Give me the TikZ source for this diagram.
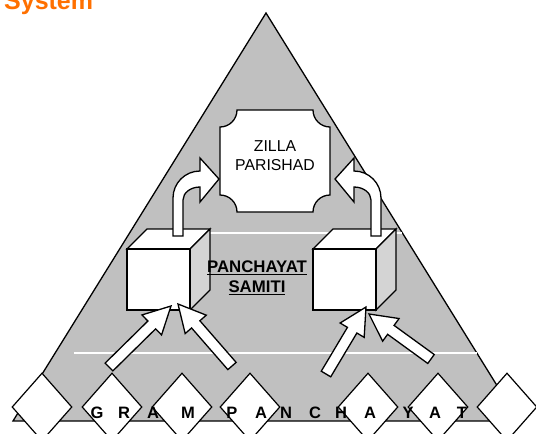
\documentclass[tikz,border=0pt]{standalone}
\usepackage{fontspec}
\setmainfont{Liberation Sans}
\usetikzlibrary{calc,shapes.geometric}

\definecolor{pyrgray}{RGB}{192,192,192}
\definecolor{sidegray}{RGB}{212,212,212}
\definecolor{sysorange}{RGB}{255,112,0}

% block arrow from tail #1 to tip #2
\newcommand\blockarrow[2]{%
  \coordinate (bh) at ($(#2)!27pt!(#1)$);
  \draw[outl,fill=white]
    ($(#1)!5.5pt!90:(#2)$) -- ($(bh)!5.5pt!-90:(#1)$) -- ($(bh)!14pt!-90:(#1)$)
    -- (#2) -- ($(bh)!14pt!90:(#1)$) -- ($(bh)!5.5pt!90:(#1)$)
    -- ($(#1)!5.5pt!-90:(#2)$) -- cycle;}

\tikzset{
  pics/cube/.style={code={
    \draw[outl,fill=white] (0,0) -- (20,-20) -- (83,-20) -- (63,0) -- cycle;
    \draw[outl,fill=sidegray] (63,0) -- (83,-20) -- (83,41) -- (63,61) -- cycle;
    \draw[outl,fill=white] (0,0) rectangle (63,61);
  }},
  pics/bentarrow/.style={code={
    \draw[outl,fill=white] (173,236) -- (173,198)
      arc[start angle=180,end angle=270,radius=27] -- (200,158) -- (219,179)
      -- (200,202) -- (200,187)
      arc[start angle=270,end angle=180,x radius=17,y radius=13] -- (183,236) -- cycle;
  }}
}

\begin{document}
\begin{tikzpicture}[x=1pt,y=-1pt,
  outl/.style={draw=black,line width=1.3pt},
  tri/.style={outl,fill=pyrgray},
  band/.style={draw=white,line width=1.6pt},
  plaque/.style={outl,fill=white},
  diam/.style={diamond,draw=black,fill=white,line width=1.2pt,inner sep=0pt,
    minimum width=60pt,minimum height=68pt},
  lbl/.style={align=center,inner sep=0pt,font=\fontsize{15.8}{19}\selectfont},
  letter/.style={anchor=base,inner sep=0pt,font=\fontsize{16.5}{18}\selectfont\bfseries}
]
\useasboundingbox (0,0) rectangle (536,434);
\clip (0,0) rectangle (536,434);

\node[anchor=base west,inner sep=0pt,text=sysorange,
  font=\fontsize{25}{28}\selectfont\bfseries] (title) at (4,9) {System};

% pyramid
\draw[tri] (266,13) -- (519,421) -- (13,421) -- cycle;
\draw[band] (200,233) -- (402,233);
\draw[band] (74,353) -- (477,353);

% zilla parishad
\draw[plaque] (220,127) -- (220,195) arc[start angle=-90,end angle=0,radius=17]
  -- (313,212) arc[start angle=180,end angle=270,radius=17]
  -- (330,127) arc[start angle=90,end angle=180,radius=17]
  -- (237,110) arc[start angle=0,end angle=90,radius=17] -- cycle;
\node[lbl] (zilla) at (275,156) {ZILLA\\PARISHAD};

% panchayat samitis
\pic (lcube) at (127,249) {cube};
\pic (rcube) at (313,249) {cube};
\pic at (0,0) {bentarrow};
\pic[xscale=-1] at (554,0) {bentarrow};
\node[lbl,font=\fontsize{16.8}{20}\selectfont\bfseries] (samiti) at (257,278)
  {\underline{PANCHAYAT}\\\underline{SAMITI}};

% arrows from gram panchayats
\coordinate (t1) at (109,367); \coordinate (p1) at (171,306);
\coordinate (t2) at (232,366); \coordinate (p2) at (178,304);
\coordinate (t3) at (326,374); \coordinate (p3) at (366,307);
\coordinate (t4) at (431,359); \coordinate (p4) at (369,314);
\blockarrow{t1}{p1}
\blockarrow{t2}{p2}
\blockarrow{t3}{p3}
\blockarrow{t4}{p4}

% gram panchayats
\foreach \dx [count=\i] in {42,112,182,250,368,438,507}
  \node[diam] (d\i) at (\dx,407) {};
\foreach \ch/\cx [count=\i] in {G/97,R/124,A/153,M/188,P/232,A/261,N/286,
    C/315,H/341,A/370,Y/408,A/435,T/462}
  \node[letter] (g\i) at (\cx,418) {\ch};
\end{tikzpicture}
\end{document}
